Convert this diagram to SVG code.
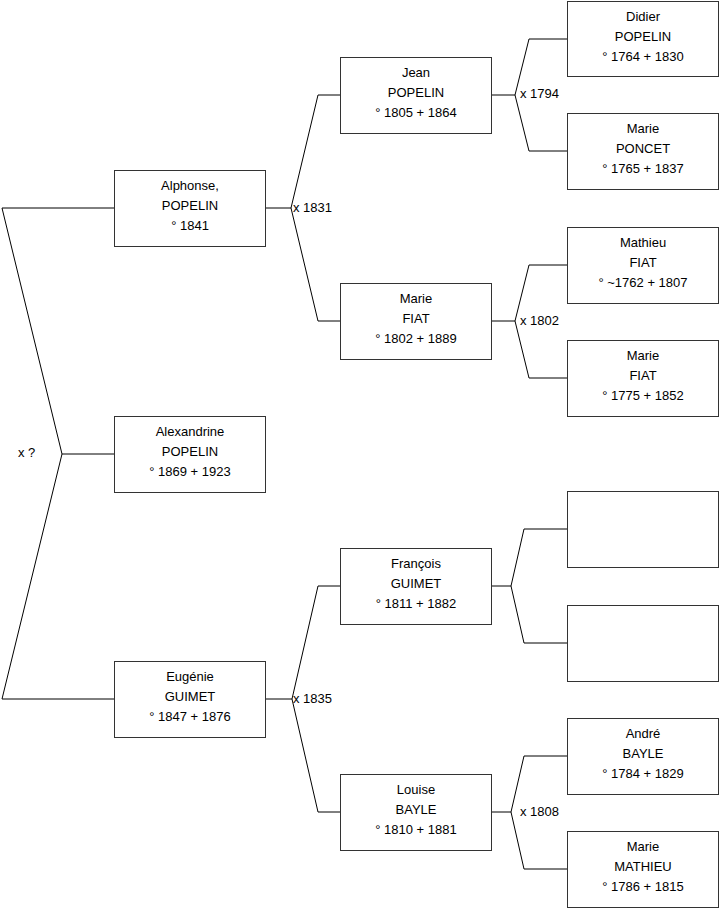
<svg xmlns="http://www.w3.org/2000/svg" width="719" height="908" viewBox="0 0 719 908">
<style>
.box{fill:#fff;stroke:#333;stroke-width:1}
.t{font-family:"Liberation Sans",Arial,sans-serif;font-size:13px;fill:#000;text-anchor:middle}
.l{font-family:"Liberation Sans",Arial,sans-serif;font-size:13px;fill:#000;dominant-baseline:central}
.c{fill:none;stroke:#000;stroke-width:1}
</style>
<rect width="719" height="908" fill="#fff"/>
<g id="connectors">
<path class="c" d="M114,208 H2 L62,454 L2,699 H114 M62,454 H114"/>
<path class="c" d="M265,208 H291 M340,95 H318 L291,208 L318,321 H340"/>
<path class="c" d="M265,699 H292 M340,586 H318 L292,699 L318,812 H340"/>
<path class="c" d="M491,95 H515 M567,39 H529 L515,95 L529,151 H567"/>
<path class="c" d="M491,321 H515 M567,265 H529 L515,321 L529,378 H567"/>
<path class="c" d="M491,586 H511 M567,529 H524 L511,586 L524,643 H567"/>
<path class="c" d="M491,812 H511 M567,756 H524 L511,812 L524,869 H567"/>
<text class="l" x="18" y="452">x ?</text>
<text class="l" x="293" y="207">x 1831</text>
<text class="l" x="293" y="698">x 1835</text>
<text class="l" x="520" y="93">x 1794</text>
<text class="l" x="520" y="320">x 1802</text>
<text class="l" x="520" y="811">x 1808</text>
</g>
<g id="alphonse"><rect class="box" x="114.5" y="170.5" width="151" height="76"/><text class="t" x="190" y="190">Alphonse,</text><text class="t" x="190" y="210">POPELIN</text><text class="t" x="190" y="230">° 1841</text></g>
<g id="alexandrine"><rect class="box" x="114.5" y="416.5" width="151" height="76"/><text class="t" x="190" y="436">Alexandrine</text><text class="t" x="190" y="456">POPELIN</text><text class="t" x="190" y="476">° 1869 + 1923</text></g>
<g id="eugenie"><rect class="box" x="114.5" y="661.5" width="151" height="76"/><text class="t" x="190" y="681">Eugénie</text><text class="t" x="190" y="701">GUIMET</text><text class="t" x="190" y="721">° 1847 + 1876</text></g>
<g id="jean"><rect class="box" x="340.5" y="57.5" width="151" height="76"/><text class="t" x="416" y="77">Jean</text><text class="t" x="416" y="97">POPELIN</text><text class="t" x="416" y="117">° 1805 + 1864</text></g>
<g id="marie-fiat-1802"><rect class="box" x="340.5" y="283.5" width="151" height="76"/><text class="t" x="416" y="303">Marie</text><text class="t" x="416" y="323">FIAT</text><text class="t" x="416" y="343">° 1802 + 1889</text></g>
<g id="francois"><rect class="box" x="340.5" y="548.5" width="151" height="76"/><text class="t" x="416" y="568">François</text><text class="t" x="416" y="588">GUIMET</text><text class="t" x="416" y="608">° 1811 + 1882</text></g>
<g id="louise"><rect class="box" x="340.5" y="774.5" width="151" height="76"/><text class="t" x="416" y="794">Louise</text><text class="t" x="416" y="814">BAYLE</text><text class="t" x="416" y="834">° 1810 + 1881</text></g>
<g id="didier"><rect class="box" x="567.5" y="1.5" width="151" height="75"/><text class="t" x="643" y="21">Didier</text><text class="t" x="643" y="41">POPELIN</text><text class="t" x="643" y="61">° 1764 + 1830</text></g>
<g id="marie-poncet"><rect class="box" x="567.5" y="113.5" width="151" height="76"/><text class="t" x="643" y="133">Marie</text><text class="t" x="643" y="153">PONCET</text><text class="t" x="643" y="173">° 1765 + 1837</text></g>
<g id="mathieu"><rect class="box" x="567.5" y="227.5" width="151" height="76"/><text class="t" x="643" y="247">Mathieu</text><text class="t" x="643" y="267">FIAT</text><text class="t" x="643" y="287">° ~1762 + 1807</text></g>
<g id="marie-fiat-1775"><rect class="box" x="567.5" y="340.5" width="151" height="76"/><text class="t" x="643" y="360">Marie</text><text class="t" x="643" y="380">FIAT</text><text class="t" x="643" y="400">° 1775 + 1852</text></g>
<g id="empty-1"><rect class="box" x="567.5" y="491.5" width="151" height="76"/></g>
<g id="empty-2"><rect class="box" x="567.5" y="605.5" width="151" height="76"/></g>
<g id="andre"><rect class="box" x="567.5" y="718.5" width="151" height="76"/><text class="t" x="643" y="738">André</text><text class="t" x="643" y="758">BAYLE</text><text class="t" x="643" y="778">° 1784 + 1829</text></g>
<g id="marie-mathieu"><rect class="box" x="567.5" y="831.5" width="151" height="76"/><text class="t" x="643" y="851">Marie</text><text class="t" x="643" y="871">MATHIEU</text><text class="t" x="643" y="891">° 1786 + 1815</text></g>
</svg>
